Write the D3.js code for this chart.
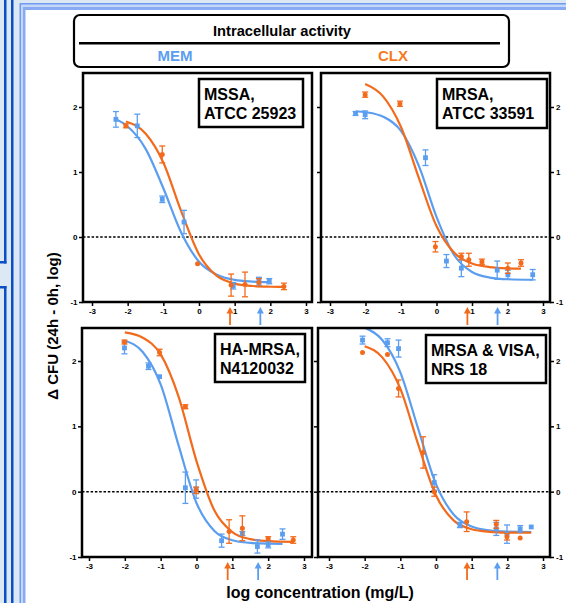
<!DOCTYPE html>
<html>
<head>
<meta charset="utf-8">
<script src="https://cdn.jsdelivr.net/npm/d3@7"></script>
<style>
body { margin: 0; background: #fff; }
svg { display: block; font-family: "Liberation Sans", Arial, sans-serif; font-weight: bold; }
</style>
</head>
<body>
<div id="chart"></div>
<script>
// Data: [log conc, delta CFU, error]
var mssaMem = [[-2.33, 1.81, 0.12], [-1.73, 1.71, 0.18], [-1.03, 0.58, 0.05], [-0.42, 0.23, 0.18], [0.96, -0.75, 0.05], [1.68, -0.68, 0.06], [1.97, -0.68, 0.04]];
var mssaClx = [[-2.05, 1.71, 0.03], [-1.03, 1.27, 0.13], [-0.04, -0.41, 0], [0.90, -0.74, 0.17], [1.29, -0.73, 0.19], [1.68, -0.70, 0.06], [2.38, -0.76, 0.05]];
var mrsaMem = [[-2.28, 1.90, 0.03], [-2.01, 1.88, 0.06], [-0.31, 1.22, 0.12], [0.28, -0.37, 0.10], [0.70, -0.48, 0.13], [1.71, -0.51, 0.14], [2.01, -0.58, 0.07], [2.71, -0.58, 0.08]];
var mrsaClx = [[-2.01, 2.19, 0.04], [-1.03, 2.05, 0.04], [-0.03, -0.15, 0.08], [0.70, -0.30, 0.05], [0.91, -0.35, 0.10], [1.28, -0.38, 0.04], [2.01, -0.48, 0.08], [2.38, -0.40, 0.05]];
var haMem = [[-2.01, 2.20, 0.09], [-1.34, 1.92, 0.05], [-1.03, 1.76, 0], [-0.31, 0.06, 0.24], [-0.01, 0.04, 0.14], [0.70, -0.75, 0.10], [1.28, -0.64, 0.03], [1.70, -0.84, 0.10], [2.00, -0.81, 0.05], [2.40, -0.65, 0.08]];
var haClx = [[-2.01, 2.29, 0.03], [-1.03, 2.13, 0.05], [-0.31, 1.30, 0.03], [-0.01, 0.02, 0.05], [0.91, -0.61, 0.18], [1.28, -0.56, 0.19], [2.00, -0.72, 0.03], [2.70, -0.74, 0.05]];
var nrsMem = [[-2.06, 2.32, 0.06], [-1.36, 2.28, 0.06], [-1.05, 2.19, 0.13], [-0.05, 0.14, 0.12], [0.67, -0.51, 0.04], [1.69, -0.57, 0.10], [1.99, -0.65, 0.14], [2.36, -0.57, 0.05], [2.67, -0.54, 0]];
var nrsClx = [[-2.06, 2.13, 0], [-1.36, 2.10, 0], [-1.05, 1.58, 0.13], [-0.36, 0.60, 0.24], [-0.05, 0.00, 0.07], [0.86, -0.46, 0.15], [1.69, -0.50, 0.06], [1.99, -0.69, 0.05], [2.36, -0.71, 0]];

// fitted curves: [log conc, delta CFU]
var mssaMemFit = [[-2.33, 1.81], [-2, 1.70], [-1.5, 1.36], [-1, 0.75], [-0.5, 0.07], [0, -0.38], [0.5, -0.58], [1, -0.66], [1.5, -0.686], [1.97, -0.695]];
var mssaClxFit = [[-2.05, 1.778], [-1.5, 1.593], [-1, 1.147], [-0.5, 0.397], [0, -0.268], [0.5, -0.599], [1, -0.717], [1.5, -0.754], [2, -0.765], [2.38, -0.768]];
var mrsaMemFit = [[-2.28, 1.935], [-2, 1.92], [-1.5, 1.85], [-1, 1.632], [-0.5, 1.099], [0, 0.31], [0.5, -0.281], [1, -0.539], [1.5, -0.624], [2, -0.65], [2.71, -0.658]];
var mrsaClxFit = [[-2.01, 2.353], [-1.5, 2.16], [-1, 1.693], [-0.5, 0.913], [0, 0.168], [0.5, -0.244], [1, -0.408], [1.5, -0.463], [2, -0.482], [2.38, -0.486]];
var haMemFit = [[-2, 2.31], [-1.5, 2.138], [-1, 1.642], [-0.5, 0.708], [0, -0.173], [0.5, -0.601], [1, -0.743], [1.5, -0.784], [2, -0.796], [2.4, -0.798]];
var haClxFit = [[-2, 2.437], [-1.5, 2.357], [-1, 2.101], [-0.5, 1.455], [0, 0.468], [0.5, -0.289], [1, -0.618], [1.5, -0.726], [2, -0.757], [2.7, -0.768]];
var nrsMemFit = [[-2, 2.508], [-1.5, 2.317], [-1, 1.827], [-0.5, 0.963], [0, 0.115], [0.5, -0.353], [1, -0.533], [1.5, -0.593], [2, -0.612], [2.67, -0.618]];
var nrsClxFit = [[-2, 2.226], [-1.5, 2.052], [-1, 1.576], [-0.5, 0.724], [0, -0.059], [0.5, -0.443], [1, -0.575], [1.5, -0.614], [2, -0.626], [2.67, -0.629]];

var strainLabels = [["MSSA,", "ATCC 25923"], ["MRSA,", "ATCC 33591"], ["HA-MRSA,", "N4120032"], ["MRSA & VISA,", "NRS 18"]];
var xTicks = [-3, -2, -1, 0, 1, 2, 3];
var yTicks = [-1, 0, 1, 2];
var arrowClx = 0.87;   // orange arrow
var arrowMem = 1.72;   // blue arrow

var blue = "#5b9ef0", orange = "#f26b1d";
var width = 566, height = 603;

var svg = d3.select("#chart")
    .append("svg")
    .attr("width", width)
    .attr("height", height);

// page frame (blue border of the slide)
svg.append("rect").attr("width", width).attr("height", height).attr("fill", "#dde8f5");
svg.append("rect").attr("x", 19.5).attr("y", 3).attr("width", width).attr("height", height).attr("fill", "#6f9bf0");
svg.append("rect").attr("x", 21).attr("y", 4.5).attr("width", width).attr("height", height).attr("fill", "#c6d8f8");
svg.append("rect").attr("x", 23).attr("y", 7).attr("width", width).attr("height", height).attr("fill", "#88abf3");
svg.append("rect").attr("x", 25.5).attr("y", 10).attr("width", width).attr("height", height).attr("fill", "#fff");
var dark = "#0b4fc4";
svg.append("rect").attr("x", 11).attr("y", 0).attr("width", 2.5).attr("height", height).attr("fill", dark);
svg.append("rect").attr("x", 4).attr("y", 0).attr("width", 2.5).attr("height", 263.5).attr("fill", dark);
svg.append("rect").attr("x", 0).attr("y", 261).attr("width", 6.5).attr("height", 2.5).attr("fill", dark);
svg.append("rect").attr("x", 0).attr("y", 286).attr("width", 6.5).attr("height", 2.5).attr("fill", dark);
svg.append("rect").attr("x", 4).attr("y", 286).attr("width", 2.5).attr("height", height).attr("fill", dark);

// header box
svg.append("rect")
    .attr("x", 74).attr("y", 15).attr("width", 435).attr("height", 52).attr("rx", 6)
    .attr("fill", "#fff").attr("stroke", "#000").attr("stroke-width", 2.2);
svg.append("text").attr("x", 282).attr("y", 36).attr("text-anchor", "middle")
    .style("font-size", "14.7px").text("Intracellular activity");
svg.append("line").attr("x1", 79).attr("x2", 500).attr("y1", 43.3).attr("y2", 43.3)
    .attr("stroke", "#000").attr("stroke-width", 2.4);
svg.append("text").attr("x", 175).attr("y", 61).attr("text-anchor", "middle")
    .style("font-size", "15px").attr("fill", blue).text("MEM");
svg.append("text").attr("x", 393).attr("y", 61).attr("text-anchor", "middle")
    .style("font-size", "15px").attr("fill", "#f47a22").text("CLX");

// panel layout: frame, pixel range of x=-3..3, pixel range of y=-1..2, label box
var panels = [
    { frame: [83, 73, 312, 302], xr: [92, 306], yr: [302, 107], lab: [199, 79, 303, 127], right: false,
      mem: mssaMem, clx: mssaClx, memFit: mssaMemFit, clxFit: mssaClxFit, name: strainLabels[0] },
    { frame: [321, 73, 550, 302], xr: [330, 543], yr: [302, 107], lab: [437, 79, 547, 128], right: true,
      mem: mrsaMem, clx: mrsaClx, memFit: mrsaMemFit, clxFit: mrsaClxFit, name: strainLabels[1] },
    { frame: [82, 328, 312, 557], xr: [89, 304], yr: [557, 361], lab: [215, 334, 305, 382], right: false,
      mem: haMem, clx: haClx, memFit: haMemFit, clxFit: haClxFit, name: strainLabels[2] },
    { frame: [318, 328, 550, 557], xr: [329, 543], yr: [557, 361], lab: [426, 335, 546, 383], right: true,
      mem: nrsMem, clx: nrsClx, memFit: nrsMemFit, clxFit: nrsClxFit, name: strainLabels[3] }
];

function styleAxis(g) {
    g.select(".domain").remove();
    g.attr("font-family", null).attr("font-size", null);
    g.selectAll(".tick line").attr("stroke", "#000").attr("stroke-width", 1.5);
    g.selectAll(".tick text").style("font-size", "8px").attr("fill", "#000");
}

panels.forEach(function(p) {
    var f = p.frame;
    var x = d3.scaleLinear().domain([-3, 3]).range(p.xr);
    var y = d3.scaleLinear().domain([-1, 2]).range(p.yr);
    var g = svg.append("g");

    // zero line
    g.append("line")
        .attr("x1", f[0]).attr("x2", f[2]).attr("y1", y(0)).attr("y2", y(0))
        .attr("stroke", "#000").attr("stroke-width", 1.5).attr("stroke-dasharray", "2.5,1.8");

    // fitted curves
    var line = d3.line().x(d => x(d[0])).y(d => y(d[1])).curve(d3.curveMonotoneX);
    g.append("path").datum(p.memFit).attr("d", line)
        .attr("fill", "none").attr("stroke", blue).attr("stroke-width", 2.2);
    g.append("path").datum(p.clxFit).attr("d", line)
        .attr("fill", "none").attr("stroke", orange).attr("stroke-width", 2.2);

    // error bars + markers
    [[p.mem, blue], [p.clx, orange]].forEach(function(s) {
        var pts = s[0], col = s[1];
        var eb = g.append("g").attr("stroke", col).attr("stroke-width", 1.3);
        pts.filter(d => d[2] > 0).forEach(function(d) {
            var cx = x(d[0]), y1 = y(d[1] + d[2]), y2 = y(d[1] - d[2]);
            eb.append("line").attr("x1", cx).attr("x2", cx).attr("y1", y1).attr("y2", y2);
            eb.append("line").attr("x1", cx - 3).attr("x2", cx + 3).attr("y1", y1).attr("y2", y1);
            eb.append("line").attr("x1", cx - 3).attr("x2", cx + 3).attr("y1", y2).attr("y2", y2);
        });
        if (col === blue) {
            g.selectAll(null).data(pts).enter().append("rect")
                .attr("x", d => x(d[0]) - 2.4).attr("y", d => y(d[1]) - 2.4)
                .attr("width", 4.8).attr("height", 4.8).attr("fill", col);
        } else {
            g.selectAll(null).data(pts).enter().append("circle")
                .attr("cx", d => x(d[0])).attr("cy", d => y(d[1])).attr("r", 2.5).attr("fill", col);
        }
    });

    // frame
    g.append("rect")
        .attr("x", f[0]).attr("y", f[1]).attr("width", f[2] - f[0]).attr("height", f[3] - f[1])
        .attr("fill", "none").attr("stroke", "#000").attr("stroke-width", 2.5);

    // axes
    g.append("g").attr("transform", "translate(0," + f[3] + ")")
        .call(d3.axisBottom(x).tickValues(xTicks).tickSize(4).tickPadding(2).tickFormat(d => String(d)))
        .call(styleAxis);
    if (p.right) {
        g.append("g").attr("transform", "translate(" + f[2] + ",0)")
            .call(d3.axisRight(y).tickValues(yTicks).tickSize(4).tickPadding(2).tickFormat(d => String(d)))
            .call(styleAxis);
        g.append("g").attr("transform", "translate(" + f[0] + ",0)")
            .call(d3.axisLeft(y).tickValues(yTicks).tickSize(4).tickFormat(""))
            .call(styleAxis);
    } else {
        g.append("g").attr("transform", "translate(" + f[0] + ",0)")
            .call(d3.axisLeft(y).tickValues(yTicks).tickSize(4).tickPadding(1.5).tickFormat(d => String(d)))
            .call(styleAxis);
    }

    // arrows under the x axis
    [[arrowClx, orange], [arrowMem, blue]].forEach(function(a) {
        var ax = x(a[0]), top = f[3] + 5;
        g.append("line").attr("x1", ax).attr("x2", ax).attr("y1", top + 4).attr("y2", top + 18)
            .attr("stroke", a[1]).attr("stroke-width", 1.8);
        g.append("path")
            .attr("d", "M" + ax + "," + top + "L" + (ax - 3.5) + "," + (top + 6.5) + "L" + (ax + 3.5) + "," + (top + 6.5) + "Z")
            .attr("fill", a[1]);
    });

    // strain label box
    var L = p.lab;
    g.append("rect")
        .attr("x", L[0]).attr("y", L[1]).attr("width", L[2] - L[0]).attr("height", L[3] - L[1])
        .attr("fill", "#fff").attr("stroke", "#000").attr("stroke-width", 2.5);
    p.name.forEach(function(t, i) {
        g.append("text").attr("x", L[0] + 5).attr("y", L[1] + 21 + i * 19)
            .style("font-size", "16px").text(t);
    });
});

// axis titles
svg.append("text")
    .attr("x", 320).attr("y", 598)
    .attr("text-anchor", "middle")
    .style("font-size", "16px")
    .text("log concentration (mg/L)");

svg.append("text")
    .attr("transform", "rotate(-90)")
    .attr("x", -326).attr("y", 58)
    .attr("text-anchor", "middle")
    .style("font-size", "15px")
    .text("\u0394 CFU (24h - 0h, log)");
</script>
</body>
</html>
